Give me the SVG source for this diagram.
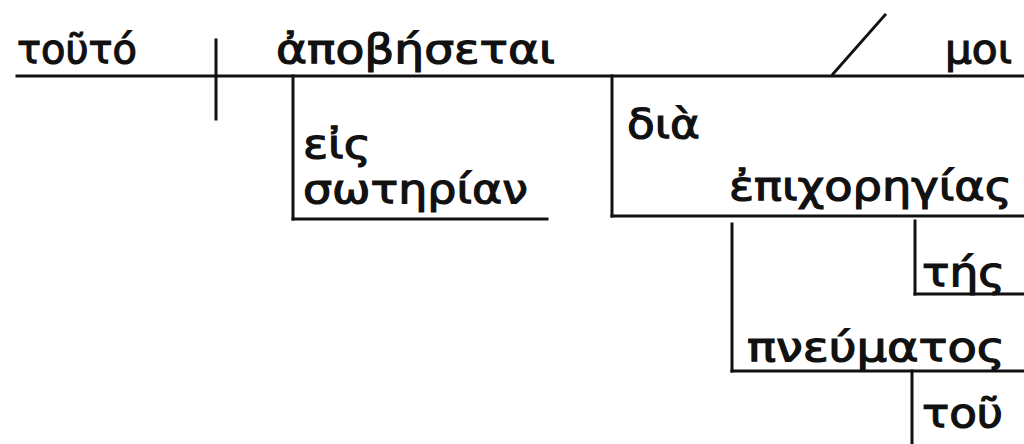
<svg xmlns="http://www.w3.org/2000/svg" width="1024" height="444" viewBox="0 0 1024 444">
<style>
text{font-family:"DejaVu Sans","Noto Sans",sans-serif;font-size:40px;fill:#111;stroke:#111;stroke-width:1.2px}
.ln{stroke:#111;stroke-width:3;fill:none;stroke-linecap:square}
</style>
<rect width="1024" height="444" fill="#fff"/>
<g id="connectors">
<line class="ln" x1="17" y1="76" x2="1024" y2="76"/>
<line class="ln" x1="216" y1="40" x2="216" y2="119"/>
<line class="ln" x1="833" y1="74" x2="885" y2="15"/>
<line class="ln" x1="293" y1="76" x2="293" y2="219"/>
<line class="ln" x1="293" y1="219" x2="547" y2="219"/>
<line class="ln" x1="612" y1="76" x2="612" y2="216"/>
<line class="ln" x1="612" y1="216" x2="1024" y2="216"/>
<line class="ln" x1="732" y1="224" x2="732" y2="371"/>
<line class="ln" x1="732" y1="371" x2="1024" y2="371"/>
<line class="ln" x1="915" y1="221" x2="915" y2="294"/>
<line class="ln" x1="915" y1="294" x2="1024" y2="294"/>
<line class="ln" x1="912" y1="371" x2="912" y2="444"/>
</g>
<g id="n-touto"><text x="17" y="63" textLength="120" lengthAdjust="spacingAndGlyphs">τοῦτό</text></g>
<g id="n-apobesetai"><text x="276" y="63" textLength="279" lengthAdjust="spacingAndGlyphs">ἀποβήσεται</text></g>
<g id="n-moi"><text x="945" y="63" textLength="67" lengthAdjust="spacingAndGlyphs">μοι</text></g>
<g id="n-eis"><text x="303" y="158" textLength="68" lengthAdjust="spacingAndGlyphs">εἰς</text></g>
<g id="n-soterian"><text x="303" y="203" textLength="225" lengthAdjust="spacingAndGlyphs">σωτηρίαν</text></g>
<g id="n-dia"><text x="627" y="138" textLength="73" lengthAdjust="spacingAndGlyphs">διὰ</text></g>
<g id="n-epichoregias"><text x="729" y="200" textLength="283" lengthAdjust="spacingAndGlyphs">ἐπιχορηγίας</text></g>
<g id="n-tes"><text x="922" y="286" textLength="83" lengthAdjust="spacingAndGlyphs">τής</text></g>
<g id="n-pneumatos"><text x="747" y="361" textLength="258" lengthAdjust="spacingAndGlyphs">πνεύματος</text></g>
<g id="n-tou"><text x="922" y="427" textLength="81" lengthAdjust="spacingAndGlyphs">τοῦ</text></g>
</svg>
